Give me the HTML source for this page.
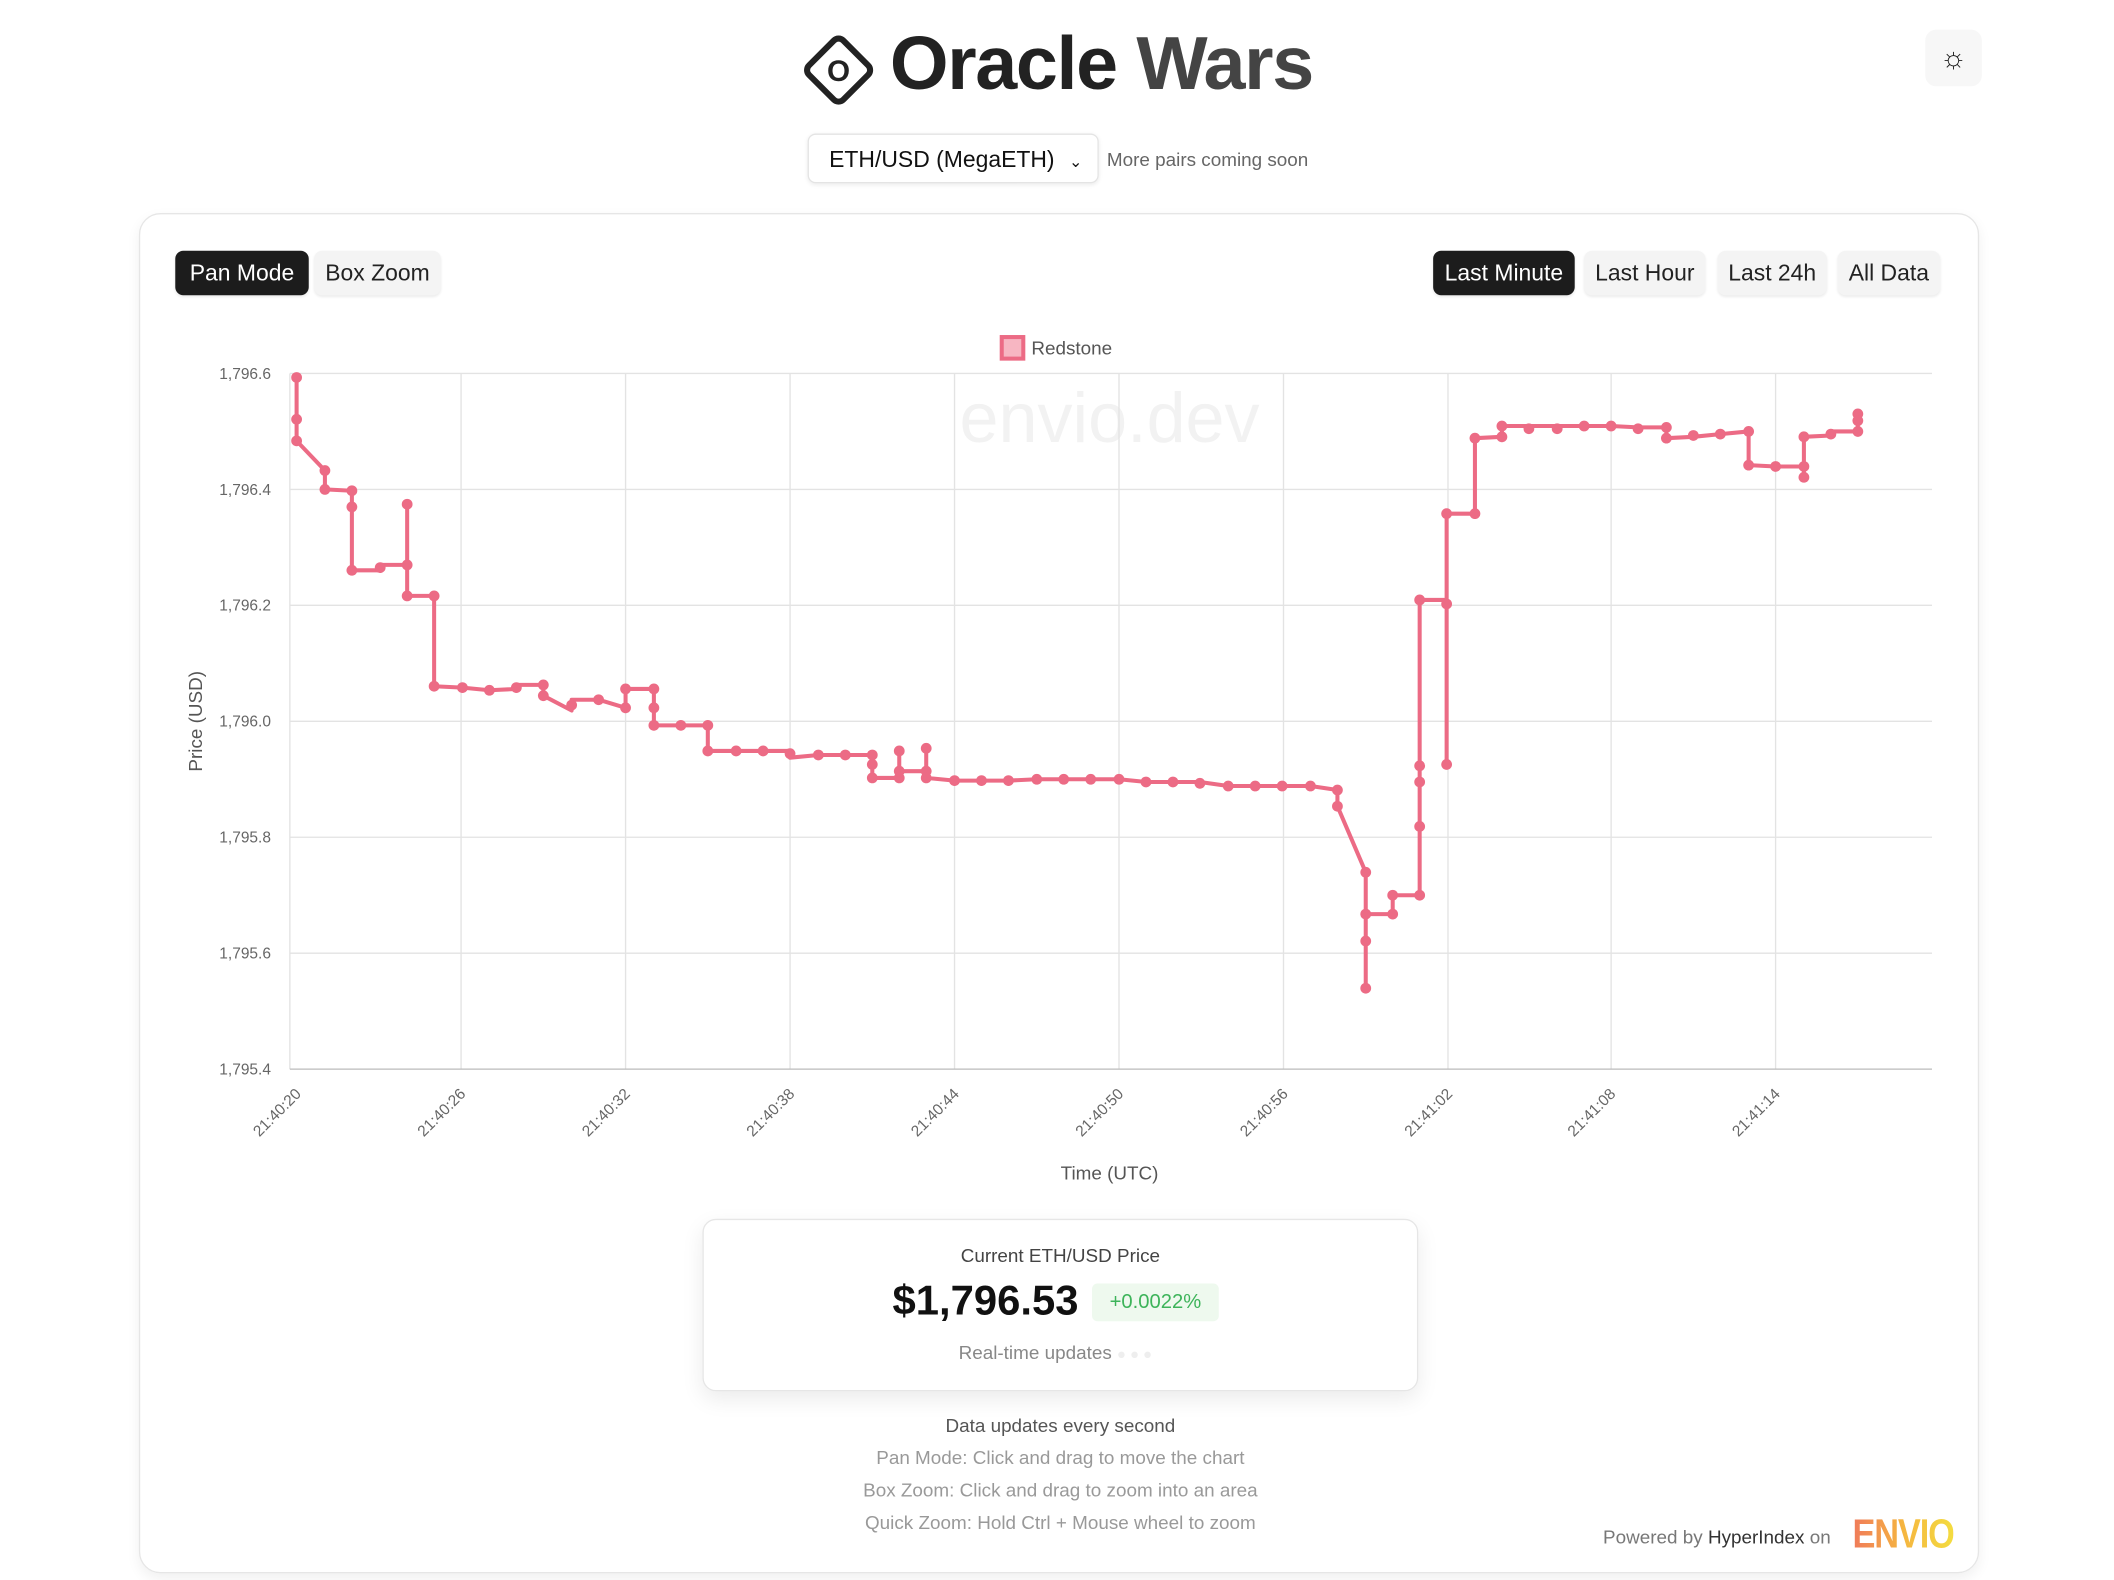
<!DOCTYPE html>
<html><head><meta charset="utf-8"><style>
html,body{margin:0;padding:0;width:2114px;height:1580px;overflow:hidden;background:#fff;font-family:"Liberation Sans",sans-serif}
#s{position:absolute;left:0;top:0;width:1568px;height:1172px;transform:scale(1.34821);transform-origin:0 0}
.a{position:absolute}
.btn{position:absolute;height:33px;line-height:33px;border-radius:6px;font-size:17px;text-align:center;background:#f4f4f4;color:#222;box-shadow:0 1px 2px rgba(0,0,0,.08)}
.dk{background:#1c1c1c;color:#fff}
.c{text-align:center}
</style></head><body><div id="s">
<svg class="a" style="left:590px;top:20px" width="64" height="64" viewBox="0 0 64 64"><rect x="14" y="14" width="36" height="36" rx="5" transform="rotate(45 32 32)" fill="none" stroke="#222" stroke-width="4.5"/><text x="32" y="40" text-anchor="middle" font-size="22" font-family="Liberation Sans" font-weight="bold" fill="#222">O</text></svg>
<div class="a" style="left:660px;top:14px;font-size:56px;font-weight:bold;color:#222;letter-spacing:-1px">Oracle <span style="color:#444">Wars</span></div>
<div class="a" style="left:1428px;top:22px;width:42px;height:42px;border-radius:8px;background:#f7f7f7;text-align:center;line-height:42px;font-size:22px;color:#222">☼</div>
<div class="a" style="left:599px;top:99px;width:216px;height:37px;border:1px solid #e4e4e4;border-radius:6px;box-shadow:0 1px 3px rgba(0,0,0,.08);font-size:17px;line-height:37px;color:#111;padding-left:15px;box-sizing:border-box">ETH/USD (MegaETH) <span style="font-size:12px;margin-left:6px">⌄</span></div>
<div class="a" style="left:821px;top:110px;font-size:14px;color:#666">More pairs coming soon</div>
<div class="a" style="left:103px;top:158px;width:1365px;height:1009px;border:1px solid #e6e6e6;border-radius:16px;box-shadow:0 4px 10px rgba(0,0,0,.06);box-sizing:border-box"></div>
<div class="btn dk" style="left:130px;top:186px;width:99px">Pan Mode</div>
<div class="btn" style="left:233px;top:186px;width:94px">Box Zoom</div>
<div class="btn dk" style="left:1063px;top:186px;width:105px">Last Minute</div>
<div class="btn" style="left:1175px;top:186px;width:90px">Last Hour</div>
<div class="btn" style="left:1274px;top:186px;width:81px">Last 24h</div>
<div class="btn" style="left:1363px;top:186px;width:76px">All Data</div>
<svg class="a" style="left:0;top:0" width="1568" height="900" font-family="Liberation Sans">
<rect x="743" y="250" width="16" height="16" fill="#f7b6c2" stroke="#ec6b85" stroke-width="3"/>
<text x="765" y="263" font-size="14" fill="#555">Redstone</text>
<text x="823" y="328" font-size="52" fill="#f2f2f2" text-anchor="middle">envio.dev</text>
<g stroke="#e3e3e3" stroke-width="1">
<line x1="215" y1="277" x2="1433" y2="277"/><line x1="215" y1="363" x2="1433" y2="363"/><line x1="215" y1="449" x2="1433" y2="449"/><line x1="215" y1="535" x2="1433" y2="535"/><line x1="215" y1="621" x2="1433" y2="621"/><line x1="215" y1="707" x2="1433" y2="707"/>
<line x1="342" y1="277" x2="342" y2="793"/><line x1="464" y1="277" x2="464" y2="793"/><line x1="586" y1="277" x2="586" y2="793"/><line x1="708" y1="277" x2="708" y2="793"/><line x1="830" y1="277" x2="830" y2="793"/><line x1="952" y1="277" x2="952" y2="793"/><line x1="1074" y1="277" x2="1074" y2="793"/><line x1="1195" y1="277" x2="1195" y2="793"/><line x1="1317" y1="277" x2="1317" y2="793"/>
<line x1="215" y1="277" x2="215" y2="793"/>
</g>
<line x1="215" y1="793" x2="1433" y2="793" stroke="#bbb"/>
<g font-size="11.5" fill="#666" text-anchor="end">
<text x="201" y="281">1,796.6</text><text x="201" y="367">1,796.4</text><text x="201" y="453">1,796.2</text><text x="201" y="539">1,796.0</text><text x="201" y="625">1,795.8</text><text x="201" y="711">1,795.6</text><text x="201" y="797">1,795.4</text>
</g>
<g font-size="11.5" fill="#666" text-anchor="end">
<text transform="translate(224,812) rotate(-45)">21:40:20</text><text transform="translate(346,812) rotate(-45)">21:40:26</text><text transform="translate(468,812) rotate(-45)">21:40:32</text><text transform="translate(590,812) rotate(-45)">21:40:38</text><text transform="translate(712,812) rotate(-45)">21:40:44</text><text transform="translate(834,812) rotate(-45)">21:40:50</text><text transform="translate(956,812) rotate(-45)">21:40:56</text><text transform="translate(1078,812) rotate(-45)">21:41:02</text><text transform="translate(1199,812) rotate(-45)">21:41:08</text><text transform="translate(1321,812) rotate(-45)">21:41:14</text>
</g>
<text x="823" y="875" font-size="14" fill="#555" text-anchor="middle">Time (UTC)</text>
<text transform="translate(150,535) rotate(-90)" font-size="14" fill="#555" text-anchor="middle">Price (USD)</text>
<polyline fill="none" stroke="#ec6b85" stroke-width="3" stroke-linejoin="round" points="220,280 220,311 220,327 241,349 241,363 261,364 261,376 261,423 282,423 282,419 302,419 302,374 302,419 302,442 322,442 322,509 343,510 363,512 383,511 383,508 403,508 403,516 424,527 424,519 444,519 464,525 464,511 485,511 485,525 485,538 505,538 525,538 525,557 546,557 566,557 586,557 586,562 607,560 627,560 647,560 647,567 647,577 667,577 667,557 667,572 687,572 687,555 687,577 708,579 728,579 748,579 769,578 789,578 809,578 830,578 850,580 870,580 890,580 911,583 931,583 951,583 972,583 992,586 992,598 1013,647 1013,733 1013,678 1033,678 1033,664 1053,664 1053,580 1053,445 1073,445 1073,567 1073,381 1094,381 1094,325 1114,324 1114,316 1134,316 1155,316 1175,316 1195,316 1215,317 1236,317 1236,325 1256,324 1276,322 1297,320 1297,345 1317,346 1338,346 1338,354 1338,324 1358,323 1358,320 1378,320 1378,307 1378,312"/>
<g fill="#ec6b85">
<circle cx="220" cy="280" r="4"/><circle cx="220" cy="311" r="4"/><circle cx="220" cy="327" r="4"/><circle cx="241" cy="349" r="4"/><circle cx="241" cy="363" r="4"/><circle cx="261" cy="364" r="4"/><circle cx="261" cy="376" r="4"/><circle cx="261" cy="423" r="4"/><circle cx="282" cy="421" r="4"/><circle cx="302" cy="419" r="4"/><circle cx="302" cy="374" r="4"/><circle cx="302" cy="442" r="4"/><circle cx="322" cy="442" r="4"/><circle cx="322" cy="509" r="4"/><circle cx="343" cy="510" r="4"/><circle cx="363" cy="512" r="4"/><circle cx="383" cy="510" r="4"/><circle cx="403" cy="508" r="4"/><circle cx="403" cy="516" r="4"/><circle cx="424" cy="523" r="4"/><circle cx="444" cy="519" r="4"/><circle cx="464" cy="525" r="4"/><circle cx="464" cy="511" r="4"/><circle cx="485" cy="511" r="4"/><circle cx="485" cy="525" r="4"/><circle cx="485" cy="538" r="4"/><circle cx="505" cy="538" r="4"/><circle cx="525" cy="538" r="4"/><circle cx="525" cy="557" r="4"/><circle cx="546" cy="557" r="4"/><circle cx="566" cy="557" r="4"/><circle cx="586" cy="559" r="4"/><circle cx="607" cy="560" r="4"/><circle cx="627" cy="560" r="4"/><circle cx="647" cy="560" r="4"/><circle cx="647" cy="567" r="4"/><circle cx="647" cy="577" r="4"/><circle cx="667" cy="577" r="4"/><circle cx="667" cy="557" r="4"/><circle cx="667" cy="572" r="4"/><circle cx="687" cy="572" r="4"/><circle cx="687" cy="555" r="4"/><circle cx="687" cy="577" r="4"/><circle cx="708" cy="579" r="4"/><circle cx="728" cy="579" r="4"/><circle cx="748" cy="579" r="4"/><circle cx="769" cy="578" r="4"/><circle cx="789" cy="578" r="4"/><circle cx="809" cy="578" r="4"/><circle cx="830" cy="578" r="4"/><circle cx="850" cy="580" r="4"/><circle cx="870" cy="580" r="4"/><circle cx="890" cy="581" r="4"/><circle cx="911" cy="583" r="4"/><circle cx="931" cy="583" r="4"/><circle cx="951" cy="583" r="4"/><circle cx="972" cy="583" r="4"/><circle cx="992" cy="586" r="4"/><circle cx="992" cy="598" r="4"/><circle cx="1013" cy="647" r="4"/><circle cx="1013" cy="733" r="4"/><circle cx="1013" cy="698" r="4"/><circle cx="1013" cy="678" r="4"/><circle cx="1033" cy="678" r="4"/><circle cx="1033" cy="664" r="4"/><circle cx="1053" cy="664" r="4"/><circle cx="1053" cy="613" r="4"/><circle cx="1053" cy="580" r="4"/><circle cx="1053" cy="568" r="4"/><circle cx="1053" cy="445" r="4"/><circle cx="1073" cy="448" r="4"/><circle cx="1073" cy="567" r="4"/><circle cx="1073" cy="381" r="4"/><circle cx="1094" cy="381" r="4"/><circle cx="1094" cy="325" r="4"/><circle cx="1114" cy="324" r="4"/><circle cx="1114" cy="316" r="4"/><circle cx="1134" cy="318" r="4"/><circle cx="1155" cy="318" r="4"/><circle cx="1175" cy="316" r="4"/><circle cx="1195" cy="316" r="4"/><circle cx="1215" cy="318" r="4"/><circle cx="1236" cy="317" r="4"/><circle cx="1236" cy="325" r="4"/><circle cx="1256" cy="323" r="4"/><circle cx="1276" cy="322" r="4"/><circle cx="1297" cy="320" r="4"/><circle cx="1297" cy="345" r="4"/><circle cx="1317" cy="346" r="4"/><circle cx="1338" cy="346" r="4"/><circle cx="1338" cy="354" r="4"/><circle cx="1338" cy="324" r="4"/><circle cx="1358" cy="322" r="4"/><circle cx="1378" cy="320" r="4"/><circle cx="1378" cy="307" r="4"/><circle cx="1378" cy="312" r="4"/>
</g>
</svg>
<div class="a" style="left:521px;top:904px;width:531px;height:128px;border:1px solid #e6e6e6;border-radius:10px;box-shadow:0 6px 16px rgba(0,0,0,.08);box-sizing:border-box"></div>
<div class="a c" style="left:521px;top:923px;width:531px;font-size:14px;color:#444">Current ETH/USD Price</div>
<div class="a" style="left:662px;top:947px;font-size:31px;font-weight:bold;color:#111">$1,796.53</div>
<div class="a c" style="left:810px;top:952px;width:94px;height:28px;line-height:28px;background:#eef9ee;border-radius:4px;font-size:15px;color:#3db45a">+0.0022%</div>
<div class="a" style="left:711px;top:995px;font-size:14px;color:#888">Real-time updates <span style="color:#eee;font-size:11px">● ● ●</span></div>
<div class="a c" style="left:521px;top:1049px;width:531px;font-size:14px;color:#555">Data updates every second</div>
<div class="a c" style="left:521px;top:1073px;width:531px;font-size:14px;color:#999">Pan Mode: Click and drag to move the chart</div>
<div class="a c" style="left:521px;top:1097px;width:531px;font-size:14px;color:#999">Box Zoom: Click and drag to zoom into an area</div>
<div class="a c" style="left:521px;top:1121px;width:531px;font-size:14px;color:#999">Quick Zoom: Hold Ctrl + Mouse wheel to zoom</div>
<div class="a" style="left:1189px;top:1132px;font-size:14px;color:#777">Powered by <span style="color:#333">HyperIndex</span> on</div>
<div class="a" style="left:1374px;top:1122px;font-size:30px;font-weight:bold;letter-spacing:-1px;background:linear-gradient(90deg,#f07a5a,#f5b540,#f4dc40);-webkit-background-clip:text;background-clip:text;color:transparent;transform:scaleX(.85);transform-origin:0 0">ENVIO</div>
</div></body></html>
